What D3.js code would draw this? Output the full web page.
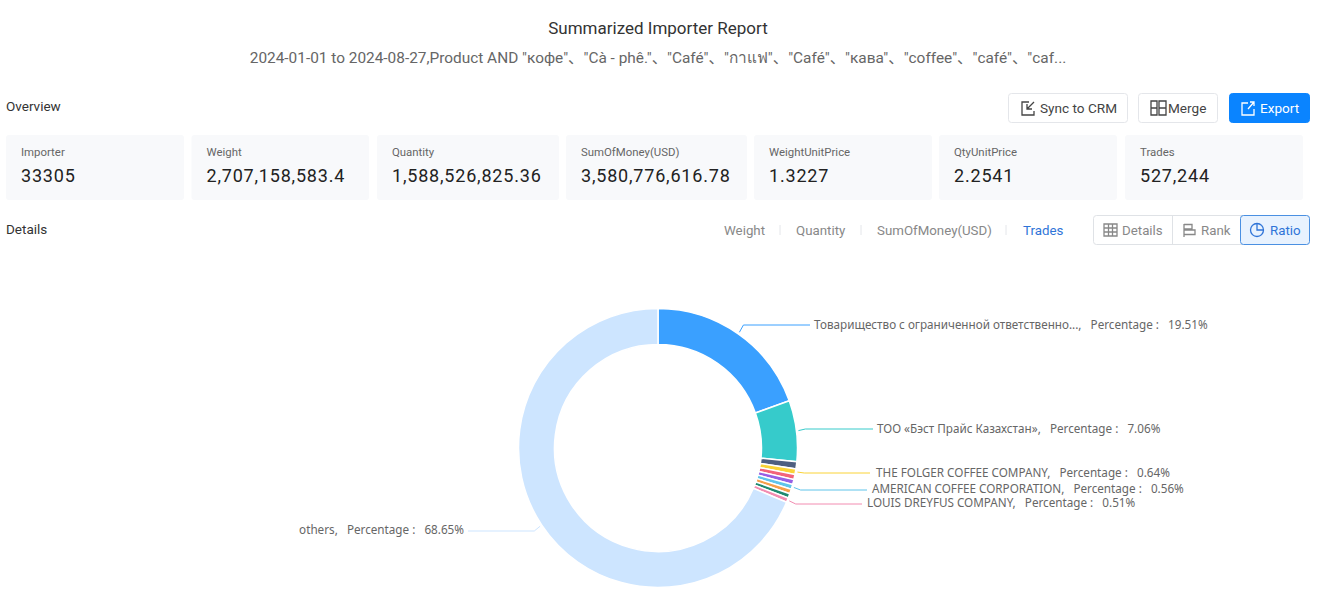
<!DOCTYPE html>
<html>
<head>
<meta charset="utf-8">
<script src="https://cdn.jsdelivr.net/npm/d3@7"></script>
<style>
	html, body { margin: 0; padding: 0; background: #fff; overflow: hidden; }
	svg { display: block; }
	text { font-family: Roboto, "Noto Sans", "Noto Sans CJK SC", sans-serif; }
	.lbl { font-family: "Noto Sans", "Open Sans", sans-serif; font-size: 11.7px; fill: #666; white-space: pre; }
</style>
</head>
<body>
<svg class="report" width="1322" height="596"></svg>
<script>
// values, the unnamed small slices are estimates
var importers = ["Товарищество с ограниченной ответственно...", "ТОО «Бэст Прайс Казахстан»", "", "THE FOLGER COFFEE COMPANY", "", "", "AMERICAN COFFEE CORPORATION", "", "", "LOUIS DREYFUS COMPANY", "others"];
var shares = [19.51, 7.06, 0.83, 0.64, 0.60, 0.58, 0.56, 0.54, 0.52, 0.51, 68.65];
var sliceColors = ["#3aa0ff", "#36cbcb", "#4e5f80", "#fad337", "#f2637b", "#975fe4", "#5fc4ea", "#f5a04a", "#1f8a70", "#f28cb1", "#cde5ff"];

var cardLabels = ["Importer", "Weight", "Quantity", "SumOfMoney(USD)", "WeightUnitPrice", "QtyUnitPrice", "Trades"];
var cardValues = ["33305", "2,707,158,583.4", "1,588,526,825.36", "3,580,776,616.78", "1.3227", "2.2541", "527,244"];
var tabs = ["Weight", "Quantity", "SumOfMoney(USD)", "Trades"];

var svg = d3.select(".report");

function label(x, y, str, size, color, anchor, weight) {
	return svg.append("text")
		.attr("x", x).attr("y", y)
		.attr("dy", "0.35em")
		.attr("text-anchor", anchor || "start")
		.attr("font-size", size)
		.attr("font-weight", weight || 400)
		.attr("fill", color)
		.text(str);
}

function icon(d, color) {
	return svg.append("path").attr("d", d)
		.attr("fill", "none").attr("stroke", color).attr("stroke-width", 1.3);
}

// header
label(658, 28, "Summarized Importer Report", 17, "#333", "middle");
label(658, 58, "2024-01-01 to 2024-08-27,Product AND \"кофе\"、\"Cà - phê.\"、\"Café\"、\"กาแฟ\"、\"Café\"、\"кава\"、\"coffee\"、\"café\"、\"caf...", 15.4, "#666", "middle");
label(6, 106, "Overview", 13.5, "#333");
label(6, 229, "Details", 13.5, "#333");

// buttons
var buttons = [
	{ x: 1008, w: 119, t: "Sync to CRM", tx: 1040, fill: "#fff", stroke: "#e4e6ea", color: "#444",
		d: "M1029 102h-7v13h12v-4M1034 102l-7 7M1027 104v5h5" },
	{ x: 1138, w: 79, t: "Merge", tx: 1168, fill: "#fff", stroke: "#e4e6ea", color: "#444",
		d: "M1151 101h6v14h-6zM1159 101h7v14h-7zM1151 108h6M1159 108h7" },
	{ x: 1229, w: 80, t: "Export", tx: 1260, fill: "#0a84ff", stroke: "#0a84ff", color: "#fff",
		d: "M1248 103h-6v12h12v-6M1248 109l6-7M1250 102h4v4" }
];
buttons.forEach((b) => {
	svg.append("rect").attr("x", b.x + 0.5).attr("y", 93.5).attr("width", b.w).attr("height", 29).attr("rx", 3)
		.attr("fill", b.fill).attr("stroke", b.stroke);
	label(b.tx, 108, b.t, 13.6, b.color);
	icon(b.d, b.color);
});

// cards
var cardLeft = [6, 191.5, 377, 566, 754, 939, 1125];
var cardRight = [184, 369, 559, 747, 932, 1117, 1303];
cardLabels.forEach((c, i) => {
	svg.append("rect").attr("x", cardLeft[i]).attr("y", 135).attr("width", cardRight[i] - cardLeft[i]).attr("height", 65).attr("rx", 3)
		.attr("fill", "#f8f9fb");
	label(cardLeft[i] + 15, 152, c, 11.4, "#666");
	label(cardLeft[i] + 15, 176, cardValues[i], 18, "#222").attr("letter-spacing", "0.8px");
});

// tabs
var tabX = [724, 796, 877, 1023];
tabs.forEach((t, i) => {
	label(tabX[i], 230, t, 13.3, i == 3 ? "#2f74d8" : "#888");
});
[780, 861, 1006].forEach((x) => {
	svg.append("line").attr("x1", x).attr("x2", x).attr("y1", 225).attr("y2", 235).attr("stroke", "#e4e6ea");
});

// view switch
svg.append("rect").attr("x", 1093.5).attr("y", 215.5).attr("width", 216).attr("height", 29).attr("rx", 3)
	.attr("fill", "#fff").attr("stroke", "#dfe2e6");
svg.append("line").attr("x1", 1172.5).attr("x2", 1172.5).attr("y1", 216).attr("y2", 244).attr("stroke", "#dfe2e6");
svg.append("rect").attr("x", 1240.5).attr("y", 215.5).attr("width", 69).attr("height", 29).attr("rx", 3)
	.attr("fill", "#e8f2fe").attr("stroke", "#4a90e2");
label(1122, 230, "Details", 13.3, "#888");
label(1201, 230, "Rank", 13.3, "#888");
label(1270, 230, "Ratio", 13.3, "#2f74d8");
icon("M1104 224h13v12h-13zM1104 228h13M1104 232h13M1108.500 224v12M1112.500 224v12", "#888");
icon("M1184 224v13M1184 224.500h8v4.500h-8M1184 230h11v4.500h-11", "#888");
svg.append("circle").attr("cx", 1257).attr("cy", 230).attr("r", 6.5).attr("fill", "none").attr("stroke", "#2f74d8").attr("stroke-width", 1.3);
icon("M1257 223.500v6.500h6.500", "#2f74d8");

// donut
var cx = 658, cy = 448, outer = 139.5, inner = 103.5;
var g = svg.append("g").attr("transform", "translate(" + cx + "," + cy + ")");

var pie = d3.pie().sort(null).value((d) => { return d.share; });
var arc = d3.arc().innerRadius(inner).outerRadius(outer);
var rows = importers.map((name, i) => {
	return { name: name, share: shares[i], color: sliceColors[i] };
});
var slices = pie(rows);

g.selectAll(".slice")
	.data(slices)
	.enter().append("path")
		.attr("class", "slice")
		.attr("d", arc)
		.attr("fill", (d) => { return d.data.color; })
		.attr("stroke", "#fff")
		.attr("stroke-width", 1.5);

// leader lines, end of line and text start for the named slices
var leaderY = { 0: 325, 1: 429, 3: 473, 6: 490, 9: 504, 10: 531 };
var leaderEnd = { 0: 810, 1: 873, 3: 870, 6: 867, 9: 862, 10: 468 };
var textX = { 0: 814, 1: 877, 3: 876, 6: 872, 9: 867, 10: 464 };
var textY = { 0: 325, 1: 429, 3: 473, 6: 489, 9: 503, 10: 530 };

slices.forEach((d, i) => {
	if (!d.data.name) return;
	var mid = (d.startAngle + d.endAngle) / 2;
	var sx = cx + (outer + 2) * Math.sin(mid), sy = cy - (outer + 2) * Math.cos(mid);
	var ex = cx + (outer + 9) * Math.sin(mid);
	var line = d3.line();
	svg.append("path")
		.attr("d", line([[sx, sy], [ex, leaderY[i]], [leaderEnd[i], leaderY[i]]]))
		.attr("fill", "none")
		.attr("stroke", d.data.color)
		.attr("stroke-width", 1);
	svg.append("text")
		.attr("class", "lbl")
		.attr("x", textX[i]).attr("y", textY[i])
		.attr("dy", "0.35em")
		.attr("text-anchor", i == 10 ? "end" : "start")
		.text(d.data.name + ",   Percentage :   " + d.data.share.toFixed(2) + "%");
});
</script>
</body>
</html>
